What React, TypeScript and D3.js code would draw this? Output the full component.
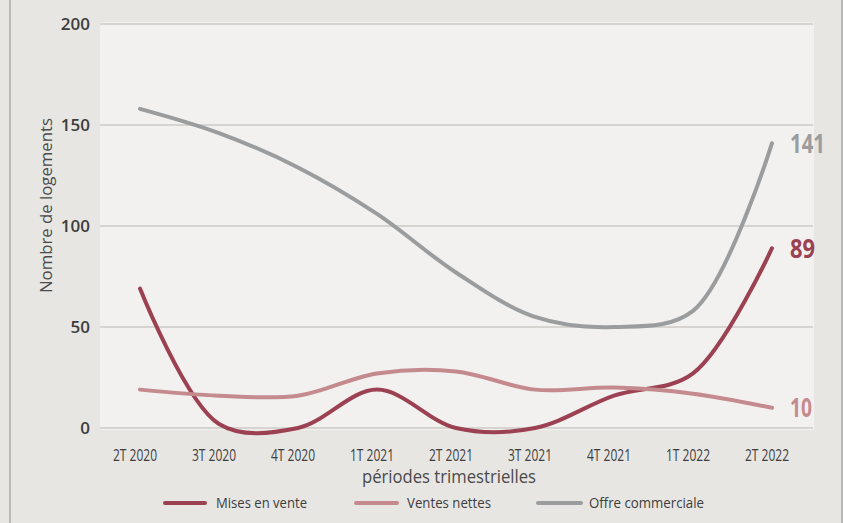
import React from "react";
import * as d3 from "d3";

const quarters = ["2T 2020", "3T 2020", "4T 2020", "1T 2021", "2T 2021", "3T 2021", "4T 2021", "1T 2022", "2T 2022"];
const misesEnVente = [69, 2, 0, 19, 0, 0, 16, 27, 89];
const ventesNettes = [19, 16, 16, 27, 28, 19, 20, 17, 10];
const offreCommerciale = [158, 146, 129, 106, 77, 55, 50, 58, 141];
const yTicks = [0, 50, 100, 150, 200];

const seriesNames = ["Mises en vente", "Ventes nettes", "Offre commerciale"];
const seriesColors = ["#9c4152", "#c48a8e", "#9a9c9e"];
const seriesData = [misesEnVente, ventesNettes, offreCommerciale];

const W = 843;
const H = 523;

export default function App() {
  const x = d3.scalePoint<string>().domain(quarters).range([140, 772]);
  const y = d3.scaleLinear().domain([0, 200]).range([428, 24]);
  const line = d3
    .line<number>()
    .x((_, i) => x(quarters[i]) as number)
    .y((d) => y(d))
    .curve(d3.curveCatmullRom.alpha(0.5));

  const legendLines = [
    [165, 205, 216, 91],
    [356, 397, 407, 84],
    [538, 581, 589, 115],
  ];
  const endLabelWidths = [25, 22, 35];
  const font = "'Open Sans', 'Noto Sans', sans-serif";

  return (
    <svg
      width={W}
      height={H}
      viewBox={`0 0 ${W} ${H}`}
      style={{ position: "absolute", left: 0, top: 0 }}
      fontFamily={font}
    >
      <rect x={0} y={0} width={W} height={H} fill="#e7e6e3" />
      <line x1={10} x2={10} y1={0} y2={H} stroke="#aaaaaa" strokeWidth={1.5} />
      <line x1={842} x2={842} y1={0} y2={H} stroke="#aaaaaa" strokeWidth={1.5} />
      <rect x={100} y={22} width={714} height={408} fill="#f2f1ef" />
      {yTicks.map((t) => (
        <g key={t}>
          <line x1={100} x2={813} y1={y(t)} y2={y(t)} stroke="#d5d4d1" strokeWidth={2} />
          <text
            x={90}
            y={y(t)}
            dy="0.35em"
            textAnchor="end"
            fontSize={17}
            fontWeight={600}
            fill="#3d3d3d"
          >
            {t}
          </text>
        </g>
      ))}
      {quarters.map((q) => (
        <text
          key={q}
          x={(x(q) as number) - 5}
          y={461}
          textAnchor="middle"
          fontSize={17}
          fill="#3d3d3d"
          textLength={44}
          lengthAdjust="spacingAndGlyphs"
        >
          {q}
        </text>
      ))}
      <text
        x={449}
        y={483}
        textAnchor="middle"
        fontSize={18}
        fill="#4a4a4a"
        textLength={174}
        lengthAdjust="spacingAndGlyphs"
      >
        périodes trimestrielles
      </text>
      <text
        transform={`translate(52,205.5) rotate(-90)`}
        textAnchor="middle"
        fontSize={15.5}
        fill="#4a4a4a"
        textLength={175}
        lengthAdjust="spacingAndGlyphs"
      >
        Nombre de logements
      </text>
      {seriesData.map((s, i) => (
        <path
          key={seriesNames[i]}
          d={line(s) || ""}
          fill="none"
          stroke={seriesColors[i]}
          strokeWidth={4}
          strokeLinecap="round"
        />
      ))}
      {seriesData.map((s, i) => (
        <text
          key={"lab" + i}
          x={790}
          y={y(s[s.length - 1])}
          dy="0.36em"
          fontSize={26}
          fontWeight={700}
          fill={seriesColors[i]}
          textLength={endLabelWidths[i]}
          lengthAdjust="spacingAndGlyphs"
        >
          {s[s.length - 1]}
        </text>
      ))}
      {seriesNames.map((n, i) => (
        <g key={n}>
          <line
            x1={legendLines[i][0]}
            x2={legendLines[i][1]}
            y1={503}
            y2={503}
            stroke={seriesColors[i]}
            strokeWidth={4}
            strokeLinecap="round"
          />
          <text
            x={legendLines[i][2]}
            y={508}
            fontSize={14}
            fill="#3d3d3d"
            textLength={legendLines[i][3]}
            lengthAdjust="spacingAndGlyphs"
          >
            {n}
          </text>
        </g>
      ))}
    </svg>
  );
}
